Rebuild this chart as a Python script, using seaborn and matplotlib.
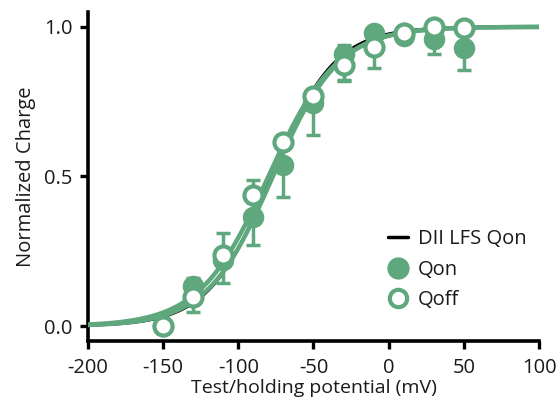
import numpy as np
import pandas as pd
import matplotlib
matplotlib.use("Agg")
import matplotlib.pyplot as plt
import seaborn as sns
from matplotlib.lines import Line2D

# ---- data ----
voltages = [-150, -130, -110, -90, -70, -50, -30, -10, 10, 30, 50]
qon = [0.0, 0.135, 0.22, 0.365, 0.54, 0.745, 0.91, 0.98, 0.97, 0.96, 0.93]
qon_err_lo = [0.0, 0.0, 0.075, 0.095, 0.11, 0.105, 0.09, 0.0, 0.0, 0.05, 0.075]
qon_err_hi = [0.0, 0.025, 0.0, 0.0, 0.0, 0.0, 0.03, 0.0, 0.0, 0.0, 0.0]
qoff = [0.0, 0.097, 0.237, 0.438, 0.615, 0.77, 0.873, 0.933, 0.98, 1.0, 0.997]
qoff_err_lo = [0.0, 0.05, 0.0, 0.0, 0.0, 0.0, 0.05, 0.07, 0.0, 0.0, 0.0]
qoff_err_hi = [0.0, 0.0, 0.075, 0.05, 0.0, 0.0, 0.0, 0.0, 0.0, 0.0, 0.0]

# Boltzmann fit parameters (V1/2 in mV, slope k in mV)
fit_names = ["DII LFS Qon", "Qon fit", "Qoff fit"]
fit_vhalf = [-78.0, -77.0, -80.0]
fit_slope = [21.0, 22.0, 23.0]

x_ticks = [-200, -150, -100, -50, 0, 50, 100]
y_ticks = [0.0, 0.5, 1.0]
x_label = "Test/holding potential (mV)"
y_label = "Normalized Charge"

GREEN = "#5FA77C"
FS = 14.5

sns.set_theme(style="ticks")
plt.rcParams["font.family"] = ["Open Sans", "DejaVu Sans"]

fig = plt.figure(figsize=(5.6, 4.09), dpi=100)
ax = fig.add_axes([0.157, 0.166, 0.9625 - 0.157, 0.971 - 0.166])

vgrid = np.linspace(-200, 100, 400)
rows = []
for name, vh, k in zip(fit_names, fit_vhalf, fit_slope):
    for v in vgrid:
        rows.append({"V": v, "Q": 1.0 / (1.0 + np.exp((vh - v) / k)), "fit": name})
fits = pd.DataFrame(rows)

sns.lineplot(data=fits[fits.fit == "DII LFS Qon"], x="V", y="Q", color="black",
             lw=2.2, ax=ax, legend=False, zorder=2)
sns.lineplot(data=fits[fits.fit == "Qon fit"], x="V", y="Q", color=GREEN,
             lw=3.2, ax=ax, legend=False, zorder=3)
sns.lineplot(data=fits[fits.fit == "Qoff fit"], x="V", y="Q", color=GREEN,
             lw=3.2, ax=ax, legend=False, zorder=3)

ax.errorbar(voltages, qon, yerr=[qon_err_lo, qon_err_hi], fmt="none",
            ecolor=GREEN, elinewidth=2.5, capsize=5, capthick=2.5, zorder=4)
ax.errorbar(voltages, qoff, yerr=[qoff_err_lo, qoff_err_hi], fmt="none",
            ecolor=GREEN, elinewidth=2.5, capsize=5, capthick=2.5, zorder=4)

pts = pd.DataFrame({"V": voltages, "Qon": qon, "Qoff": qoff})
sns.scatterplot(data=pts, x="V", y="Qon", color=GREEN, s=240, edgecolor=GREEN,
                linewidth=0, ax=ax, zorder=5)
sns.scatterplot(data=pts, x="V", y="Qoff", color="white", s=170, edgecolor=GREEN,
                linewidth=3, ax=ax, zorder=6)

ax.set_xlim(-200, 100)
ax.set_ylim(-0.05, 1.05)
ax.set_xticks(x_ticks)
ax.set_xticklabels([str(t) for t in x_ticks])
ax.set_yticks(y_ticks)
ax.set_yticklabels([f"{t:.1f}" for t in y_ticks])
ax.set_xlabel(x_label, fontsize=14, labelpad=1, color="#1a1a1a")
ax.set_ylabel(y_label, fontsize=FS, labelpad=6, color="#1a1a1a")
ax.tick_params(axis="both", labelsize=FS, width=2.4, length=6, color="black",
               labelcolor="#1a1a1a")
ax.tick_params(axis="x", pad=6)
ax.tick_params(axis="y", pad=5)
for s in ["left", "bottom"]:
    ax.spines[s].set_linewidth(2.6)
    ax.spines[s].set_color("black")
sns.despine(ax=ax)

handles = [
    Line2D([0], [0], color="black", lw=2.5),
    Line2D([0], [0], marker="o", color="none", markerfacecolor=GREEN,
           markeredgecolor=GREEN, markersize=15),
    Line2D([0], [0], marker="o", color="none", markerfacecolor="white",
           markeredgecolor=GREEN, markeredgewidth=3, markersize=12.5),
]
ax.legend(handles, ["DII LFS Qon", "Qon", "Qoff"], loc="upper left",
          bbox_to_anchor=(0.643, 0.37), frameon=False, fontsize=FS,
          handlelength=1.0, handletextpad=0.5, labelspacing=0.52, borderpad=0,
          labelcolor="#1a1a1a")

fig.savefig("out.png", dpi=100)
